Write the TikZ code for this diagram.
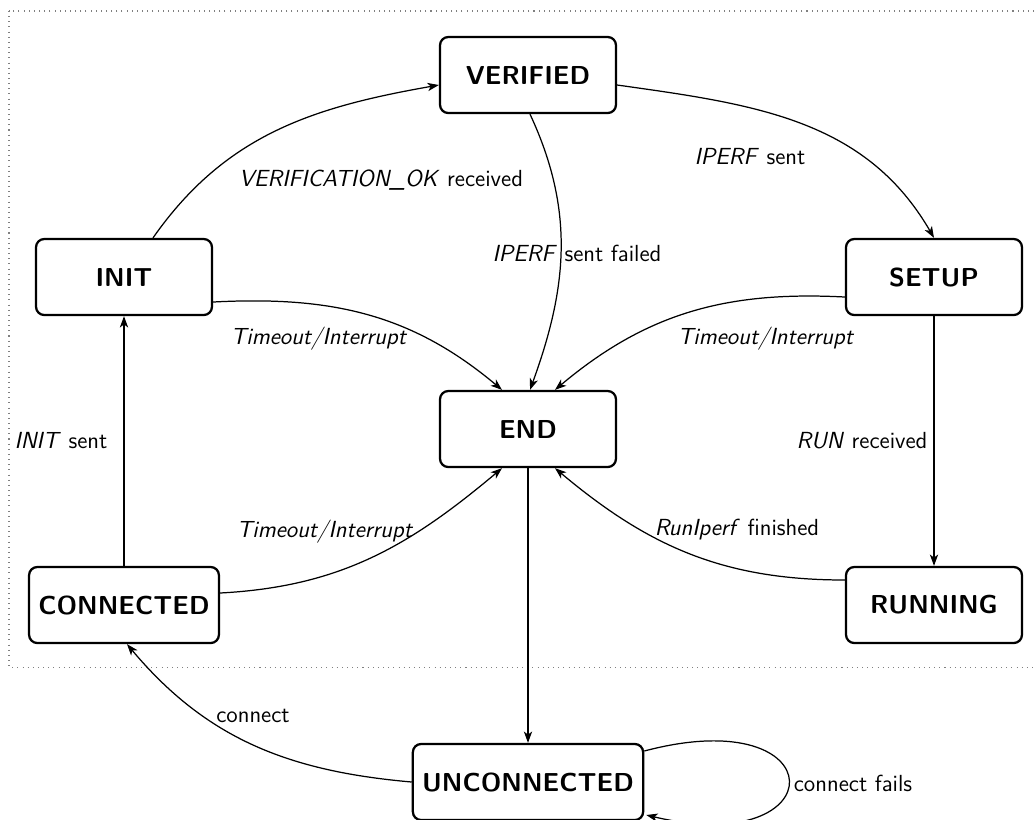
\documentclass[tikz,border=0pt]{standalone}
\usetikzlibrary{arrows.meta,calc}
\begin{document}
\begin{tikzpicture}[x=0.4854pt,y=0.4854pt,
  font=\sffamily,
  state/.style={draw,line width=1.1pt,rounded corners=4pt,minimum width=85.4pt,minimum height=36.9pt,inner xsep=4.5pt,font=\sffamily\fontsize{12.6}{15}\selectfont\bfseries},
  conn/.style={line width=0.6pt,-{Stealth[length=5.5pt,width=4pt,inset=1.5pt]}},
  lbl/.style={font=\sffamily\fontsize{11.3}{13.5}\selectfont}]
\useasboundingbox (0,0) rectangle (1035,-819);
\draw[gray,dotted,line width=0.5pt] (9,-11) rectangle (1045,-667);
\node[state] (VER) at (528,-75) {VERIFIED};
\node[state] (INIT) at (124,-277) {INIT};
\node[state] (SETUP) at (934,-277) {SETUP};
\node[state] (END) at (528,-429) {END};
\node[state] (CON) at (124,-605) {CONNECTED};
\node[state] (RUN) at (934,-605) {RUNNING};
\node[state] (UNC) at (528,-782) {UNCONNECTED};

\draw[conn] ($(INIT.north)+(29,0)$) to[out=55,in=190] ($(VER.west)+(0,-10)$)
  node[lbl] at (381,-180) {\textit{VERIFICATION\_OK} received};
\draw[conn] ($(VER.south)+(2,0)$) to[out=-65,in=70] ($(END.north)+(2,0)$)
  node[lbl] at (577,-253) {\textit{IPERF} sent failed};
\draw[conn] ($(VER.east)+(0,-10)$) to[out=-8,in=120] (SETUP.north)
  node[lbl] at (750,-157) {\textit{IPERF} sent};
\draw[conn] ($(INIT.east)+(0,-25)$) to[out=3,in=140] ($(END.north)+(-26,0)$)
  node[lbl] at (319,-339) {\textit{Timeout/Interrupt}};
\draw[conn] ($(SETUP.west)+(0,-20)$) to[out=177,in=40] ($(END.north)+(27,0)$)
  node[lbl] at (766,-339) {\textit{Timeout/Interrupt}};
\draw[conn] (SETUP.south) -- (RUN.north)
  node[lbl] at (862,-441) {\textit{RUN} received};
\draw[conn] ($(RUN.west)+(0,25)$) to[out=180,in=-40] ($(END.south)+(27,0)$)
  node[lbl] at (737,-530) {\textit{RunIperf} finished};
\draw[conn] ($(CON.east)+(0,12)$) to[out=3,in=-140] ($(END.south)+(-26,0)$)
  node[lbl] at (325,-532) {\textit{Timeout/Interrupt}};
\draw[conn] (CON.north) -- (INIT.south)
  node[lbl] at (61,-441) {\textit{INIT} sent};
\draw[conn] (END.south) -- (UNC.north);
\draw[conn] (UNC.west) to[out=175,in=-50] ($(CON.south)+(3,0)$)
  node[lbl] at (253,-716) {connect};
\draw[conn] ($(UNC.east)+(0,31)$) .. controls +(192,51) and +(190,-45) .. ($(UNC.east)+(2,-33)$)
  node[lbl] at (853,-783) {connect fails};
\end{tikzpicture}
\end{document}
